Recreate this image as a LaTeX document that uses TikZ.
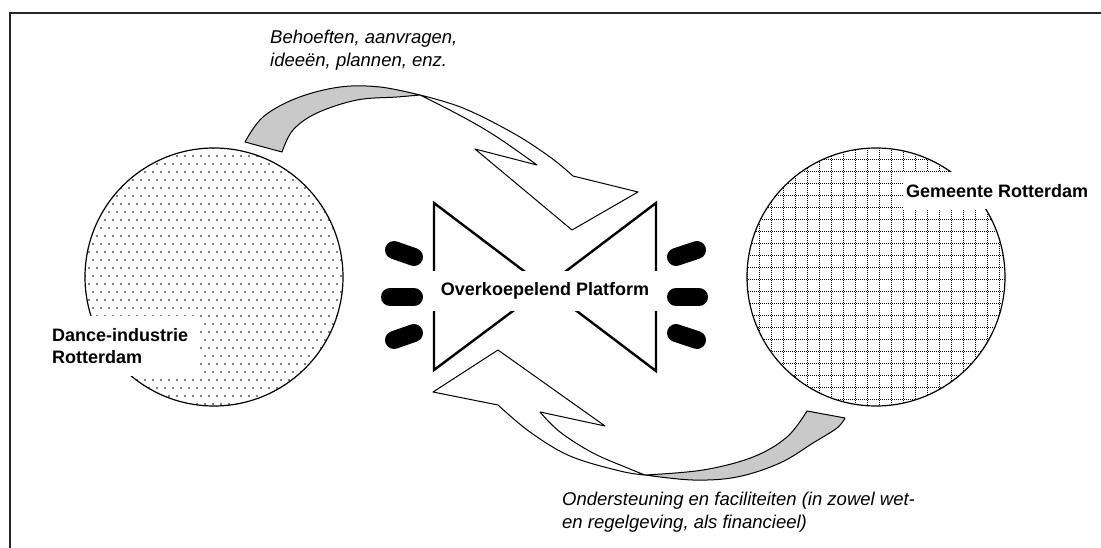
\documentclass[tikz,border=0pt]{standalone}
\usepackage{fontspec}
\setmainfont{Liberation Sans}
\begin{document}
\begin{tikzpicture}[x=1pt,y=-1pt,
  ribbon/.style={draw=black,line width=1pt,line join=round},
  bowline/.style={draw=black,line width=2.4pt,line join=miter},
  pill/.style={line width=18pt,line cap=round,draw=black},
  boldlbl/.style={font=\fontsize{18}{22}\selectfont\bfseries, fill=white, inner sep=0pt, align=left},
  itlbl/.style={font=\fontsize{18.5}{23}\selectfont\itshape, inner sep=0pt, align=left, anchor=north west},
  ringline/.style={draw=black,line width=1.2pt}]
\useasboundingbox (0,0) rectangle (1101,548);
\fill[white] (0,0) rectangle (1101,548);
\draw[line width=2pt, black!85] (1101,13) -- (10,13) -- (10,548);

% left circle (dots)
\coordinate (lc) at (214,277);
\begin{scope}
\clip (lc) circle[radius=129pt];
\foreach \j in {0,...,33} {
  \pgfmathsetmacro\yy{148+\j*8}
  \pgfmathsetmacro\off{mod(\j,2)*4}
  \foreach \i in {0,...,33} {
     \fill (85+\off+\i*8, \yy) circle[radius=0.85pt];
  }
}
\end{scope}
\draw[ringline] (lc) circle[radius=129pt];

% right circle (dotted grid)
\coordinate (rc) at (876,277);
\begin{scope}
\clip (rc) circle[radius=129pt];
\foreach \k in {0,...,22} {
  \draw[dash pattern=on 1pt off 1pt, line width=0.9pt] (747+\k*12, 140) -- (747+\k*12, 415);
  \draw[dash pattern=on 1pt off 1pt, line width=0.9pt] (740, 147+\k*12) -- (1010, 147+\k*12);
}
\end{scope}
\draw[ringline] (rc) circle[radius=129pt];

% labels of circles
\node[boldlbl, anchor=west, text width=144pt, minimum height=60pt, inner xsep=3pt] (dance) at (49,346) {Dance-industrie\\Rotterdam};
\node[boldlbl, anchor=west, minimum height=37pt, inner xsep=3pt] (gem) at (903,191) {Gemeente Rotterdam};

% bow tie
\coordinate (bc) at (545,287);
\draw[bowline] (bc) -- (434,203) -- (434,370) -- cycle;
\draw[bowline] (bc) -- (656,203) -- (656,371) -- cycle;
\node[boldlbl, minimum width=232pt, minimum height=39pt] (plat) at (545,291) {Overkoepelend Platform};

% pills
\draw[pill] (394,250) -- (414,257);
\draw[pill] (390,297) -- (414,297);
\draw[pill] (394,340) -- (414,333);
\draw[pill] (676,257) -- (697,250);
\draw[pill] (676,297) -- (699,297);
\draw[pill] (676,333) -- (697,340);

% top curved arrow
\filldraw[ribbon, fill=gray!42] plot[smooth, tension=0.6] coordinates {(245,142) (263,117) (297,98) (340,87) (380,87) (420,95)} -- plot[smooth, tension=0.6] coordinates {(420,95) (397,97) (357,100) (317,113) (293,130) (282,152)} -- cycle;
\filldraw[ribbon, fill=white] plot[smooth, tension=0.6] coordinates {(420,95) (463,108) (513,133) (550,157) (573,176)} -- (638,192) -- (572,230) -- (475,149) -- (537,165) -- plot[smooth,tension=0.6] coordinates {(537,165) (497,137) (463,117) (420,95)} -- cycle;

% bottom curved arrow
\filldraw[ribbon, fill=gray!42] plot[smooth,tension=0.6] coordinates {(645,475) (693,480) (737,477) (780,463) (813,443) (837,428) (845,418)} -- (807,411) -- plot[smooth,tension=0.6] coordinates {(807,411) (787,437) (753,457) (703,470) (645,475)} -- cycle;
\filldraw[ribbon, fill=white] plot[smooth,tension=0.6] coordinates {(645,475) (620,471) (570,456) (530,432) (498,405)} -- (433,392) -- (498,350) -- (605,426) -- (540,412) -- plot[smooth,tension=0.6] coordinates {(540,412) (560,432) (593,453) (630,469) (645,475)} -- cycle;

% texts
\node[itlbl] (toptxt) at (270,30) {Behoeften, aanvragen,\\ideeën, plannen, enz.};
\node[itlbl] (bottxt) at (562,492) {Ondersteuning en faciliteiten (in zowel wet-\\en regelgeving, als financieel)};
\end{tikzpicture}
\end{document}
